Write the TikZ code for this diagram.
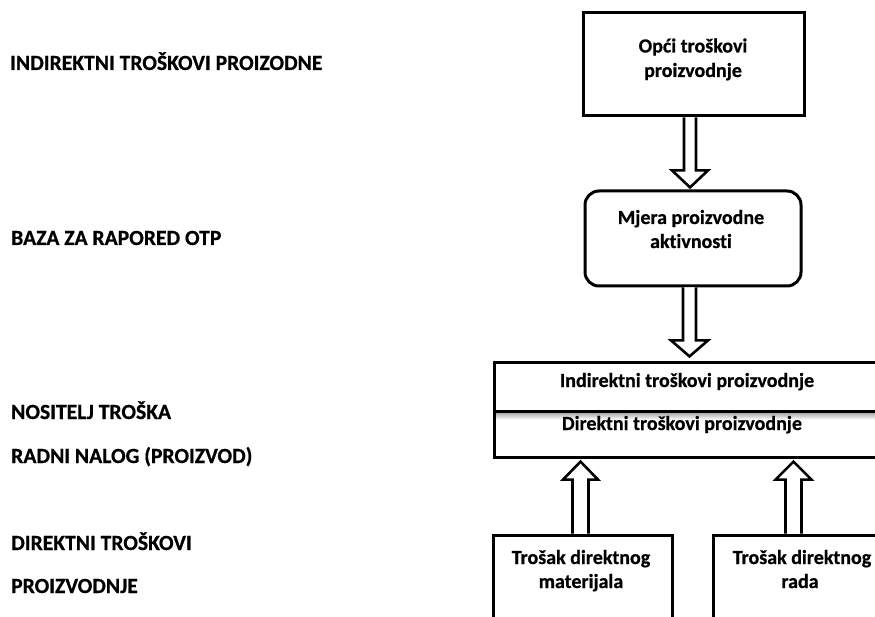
\documentclass[tikz,border=0pt]{standalone}
\usepackage{fontspec}
\setmainfont[Ligatures={NoCommon},BoldFeatures={FakeBold=0.6,Ligatures={NoCommon}}]{Carlito}
\usetikzlibrary{calc}
\begin{document}
\begin{tikzpicture}[x=1pt,y=-1pt,
  boxline/.style={rectangle,inner sep=0pt,outer sep=0pt},
  border/.style={draw=black,line width=3pt,line join=miter},
  blockarrow/.style={draw=black,fill=white,line width=2.6pt,line join=miter},
  lbl/.style={anchor=base west,inner sep=0pt,font=\fontsize{21.6}{25}\selectfont\bfseries},
  txt/.style={anchor=base,inner sep=0pt,font=\fontsize{20}{24}\selectfont\bfseries}]
\useasboundingbox (0,0) rectangle (875,617);
\clip (0,0) rectangle (875,617);
\fill[white] (0,0) rectangle (875,617);

% left labels
\node[lbl] (l1) at (10,70) {INDIREKTNI TROŠKOVI PROIZODNE};
\node[lbl] (l2) at (11,245) {BAZA ZA RAPORED OTP};
\node[lbl] (l3) at (11,419) {NOSITELJ TROŠKA};
\node[lbl] (l4) at (11,463) {RADNI NALOG (PROIZVOD)};
\node[lbl] (l5) at (11,550) {DIREKTNI TROŠKOVI};
\node[lbl] (l6) at (11,593) {PROIZVODNJE};

% boxes (shapes)
\node[boxline,minimum width=221pt,minimum height=103pt] (opci) at (693.5,64.5) {};
\node[boxline,minimum width=216pt,minimum height=95pt] (mjera) at (693,238.5) {};
\node[boxline,minimum width=396pt,minimum height=95pt] (nos) at (692,409.5) {};
\node[boxline,minimum width=179pt,minimum height=95pt] (mat) at (582.5,582.5) {};
\node[boxline,minimum width=180pt,minimum height=95pt] (rad) at (803,582.5) {};

\draw[border] (opci.north west) rectangle (opci.south east);
\draw[border,rounded corners=14pt] (mjera.north west) rectangle (mjera.south east);
\draw[border] (nos.north west) rectangle (nos.south east);
\draw[border] (mat.north west) rectangle (mat.south east);
\draw[border] (rad.north west) rectangle (rad.south east);

% middle divider with soft shadow
\shade[top color=black!30,bottom color=white] ($(nos.west)+(2,4)$) rectangle ($(nos.east)+(0,10)$);
\draw[border] ($(nos.west)+(0,1.5)$) -- ($(nos.east)+(0,1.5)$);

% texts
\node[txt] (t1a) at (693,52.5) {Opći troškovi};
\node[txt] (t1b) at (693,77) {proizvodnje};
\node[txt] (t2a) at (691,224) {Mjera proizvodne};
\node[txt] (t2b) at (691,248) {akt\kern0pt ivnost\kern0pt i};
\node[txt] (t3) at (687,387) {Indirektni troškovi proizvodnje};
\node[txt] (t4) at (682,430) {Direktni troškovi proizvodnje};
\node[txt] (t5a) at (581,564) {Trošak direktnog};
\node[txt] (t5b) at (581,588) {materijala};
\node[txt] (t6a) at (802,564) {Trošak direktnog};
\node[txt] (t6b) at (800,588) {rada};

% block arrows (down)
\coordinate (a1) at ($(opci.south)+(-3.5,1.4)$);
\draw[blockarrow] ($(a1)+(-6,0)$) -- ($(a1)+(-6,53)$) -- ($(a1)+(-18,53)$) -- ($(a1)+(0,70)$) -- ($(a1)+(18,53)$) -- ($(a1)+(6,53)$) -- ($(a1)+(6,0)$);
\coordinate (a2) at ($(mjera.south)+(-3.5,1.4)$);
\draw[blockarrow] ($(a2)+(-6.5,0)$) -- ($(a2)+(-6.5,53)$) -- ($(a2)+(-18.5,53)$) -- ($(a2)+(0,69)$) -- ($(a2)+(18.5,53)$) -- ($(a2)+(6.5,53)$) -- ($(a2)+(6.5,0)$);
% block arrows (up)
\coordinate (a3) at ($(mat.north)+(-2,-1.4)$);
\draw[blockarrow] ($(a3)+(-8,0)$) -- ($(a3)+(-8,-54)$) -- ($(a3)+(-17.5,-54)$) -- ($(a3)+(0,-72)$) -- ($(a3)+(17.5,-54)$) -- ($(a3)+(8,-54)$) -- ($(a3)+(8,0)$);
\coordinate (a4) at ($(rad.north)+(-9.5,-1.4)$);
\draw[blockarrow] ($(a4)+(-8,0)$) -- ($(a4)+(-8,-54)$) -- ($(a4)+(-18,-54)$) -- ($(a4)+(0,-72)$) -- ($(a4)+(18,-54)$) -- ($(a4)+(8,-54)$) -- ($(a4)+(8,0)$);
\end{tikzpicture}
\end{document}
